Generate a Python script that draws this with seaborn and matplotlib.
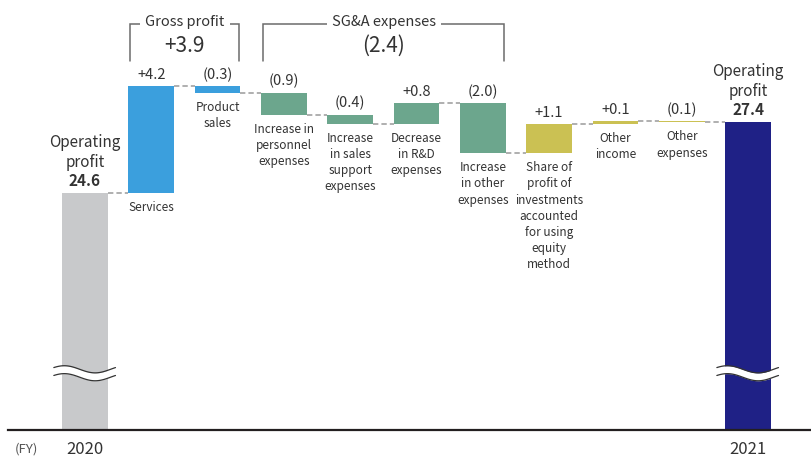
import numpy as np
import pandas as pd
import matplotlib
matplotlib.use("Agg")
import matplotlib.pyplot as plt
import seaborn as sns

# ---- operating profit bridge, FY2020 -> FY2021 ----
years = ["2020", "2021"]
start_profit = 24.6
total_title = "Operating\nprofit"

step_labels = [
    "Services",
    "Product\nsales",
    "Increase in\npersonnel\nexpenses",
    "Increase\nin sales\nsupport\nexpenses",
    "Decrease\nin R&D\nexpenses",
    "Increase\nin other\nexpenses",
    "Share of\nprofit of\ninvestments\naccounted\nfor using\nequity\nmethod",
    "Other\nincome",
    "Other\nexpenses",
]
step_values = [4.20, -0.27, -0.86, -0.36, 0.80, -1.96, 1.14, 0.13, -0.06]
step_kinds = ["gross", "gross", "sga", "sga", "sga", "sga", "other", "other", "other"]

bracket_kinds = ["gross", "sga"]
bracket_titles = ["Gross profit", "SG&A expenses"]

colors = {
    "start": "#c8c9cb",
    "gross": "#3b9fdd",
    "sga": "#6ca68d",
    "other": "#cbc153",
    "end": "#1f2186",
}
TEXT = "#333333"

# ---- derived waterfall geometry ----
vals = np.array(step_values)
levels = start_profit + np.cumsum(vals)
end_profit = levels[-1]
prev = np.concatenate([[start_profit], levels[:-1]])

df = pd.DataFrame({
    "key": [years[0]] + step_labels + [years[1]],
    "height": np.concatenate([[start_profit], np.abs(vals), [end_profit]]),
    "bottom": np.concatenate([[0.0], np.minimum(prev, levels), [0.0]]),
    "color": [colors["start"]] + [colors[k] for k in step_kinds] + [colors["end"]],
})
n = len(df)
BAR_W = 0.69


def fmt(v):
    return f"+{v:.1f}" if v >= 0 else f"({abs(v):.1f})"


sns.set_style("white")
plt.rcParams["font.family"] = ["Noto Sans CJK JP", "DejaVu Sans"]

fig = plt.figure(figsize=(8.11, 4.57), dpi=100)
ax = fig.add_axes([8 / 811, 27 / 457, 803 / 811, 430 / 457])

sns.barplot(
    data=df, x="key", y="height", bottom=df["bottom"].to_numpy(),
    width=BAR_W, color=colors["start"], saturation=1, errorbar=None,
    linewidth=0, edgecolor="none", ax=ax, zorder=2,
)
for patch, c in zip(ax.patches, df["color"]):
    patch.set_facecolor(c)

ax.set_xlim(-1.161, 10.95)
ax.set_ylim(15.3, 32.16)

# running-level connectors
run_levels = np.concatenate([[start_profit], levels])
for i in range(n - 1):
    ax.plot([i + BAR_W / 2, i + 1 - BAR_W / 2], [run_levels[i]] * 2,
            color="#9a9a9a", lw=1.1, dashes=(3.5, 2), zorder=1)

# value labels and category labels for each step
for k, v in enumerate(step_values):
    pos = k + 1
    bot = df["bottom"].iloc[pos]
    top = bot + df["height"].iloc[pos]
    ax.annotate(fmt(v), (pos, top), xytext=(0, 4), textcoords="offset pixels",
                ha="center", va="bottom", fontsize=10.5, color=TEXT)
    ax.annotate(step_labels[k], (pos, bot), xytext=(0, -8), textcoords="offset pixels",
                ha="center", va="top", fontsize=8.5, color=TEXT, linespacing=1.32)

# operating profit totals
for pos, val in [(0, start_profit), (n - 1, end_profit)]:
    ax.annotate(f"{val:.1f}", (pos, val), xytext=(0, 4), textcoords="offset pixels",
                ha="center", va="bottom", fontsize=11, fontweight="bold", color=TEXT)
    ax.annotate(total_title, (pos, val), xytext=(0, 22), textcoords="offset pixels",
                ha="center", va="bottom", fontsize=11, color=TEXT, linespacing=1.24)

# group brackets with subtotals
xt = ax.get_xaxis_transform()
y_top, y_bot = 0.944, 0.858
for kind, title in zip(bracket_kinds, bracket_titles):
    members = [k for k, s in enumerate(step_kinds) if s == kind]
    xl = members[0] + 1 - BAR_W / 2 + 0.03
    xr = members[-1] + 1 + BAR_W / 2 - 0.02
    ax.plot([xl, xl, xr, xr], [y_bot, y_top, y_top, y_bot], transform=xt,
            color="#6b6b6b", lw=1.1, solid_joinstyle="miter", zorder=1)
    xc = (xl + xr) / 2
    ax.text(xc, y_top + 0.004, title, transform=xt, ha="center", va="center",
            fontsize=10.5, color=TEXT,
            bbox=dict(boxstyle="square,pad=0.35", fc="white", ec="none"))
    ax.text(xc, 0.893, fmt(sum(step_values[k] for k in members)), transform=xt,
            ha="center", va="center", fontsize=15, color=TEXT)

# axis-break marks on the two total bars
t = np.linspace(0, 1, 120)
wave = 0.14 * np.sin(2 * np.pi * (t + 0.08))
for pos in (0, n - 1):
    xs = pos - 0.47 + 0.93 * t
    upper = 17.68 + wave
    lower = 17.37 + wave
    ax.fill_between(xs, lower, upper, color="white", lw=0, zorder=3)
    ax.plot(xs, upper, color="#333333", lw=0.9, zorder=4)
    ax.plot(xs, lower, color="#333333", lw=0.9, zorder=4)

# axes styling
for side in ("top", "right", "left"):
    ax.spines[side].set_visible(False)
ax.spines["bottom"].set_color("#231f20")
ax.spines["bottom"].set_linewidth(1.6)
ax.set_yticks([])
ax.set_xticks([0, n - 1])
ax.set_xticklabels(years, fontsize=12, color=TEXT)
ax.tick_params(axis="x", length=0, pad=8)
ax.set_xlabel("")
ax.set_ylabel("")
ax.text(-0.89, -0.045, "(FY)", transform=xt, ha="center", va="center",
        fontsize=9.5, color="#555555")

fig.savefig("out.png", dpi=100)
